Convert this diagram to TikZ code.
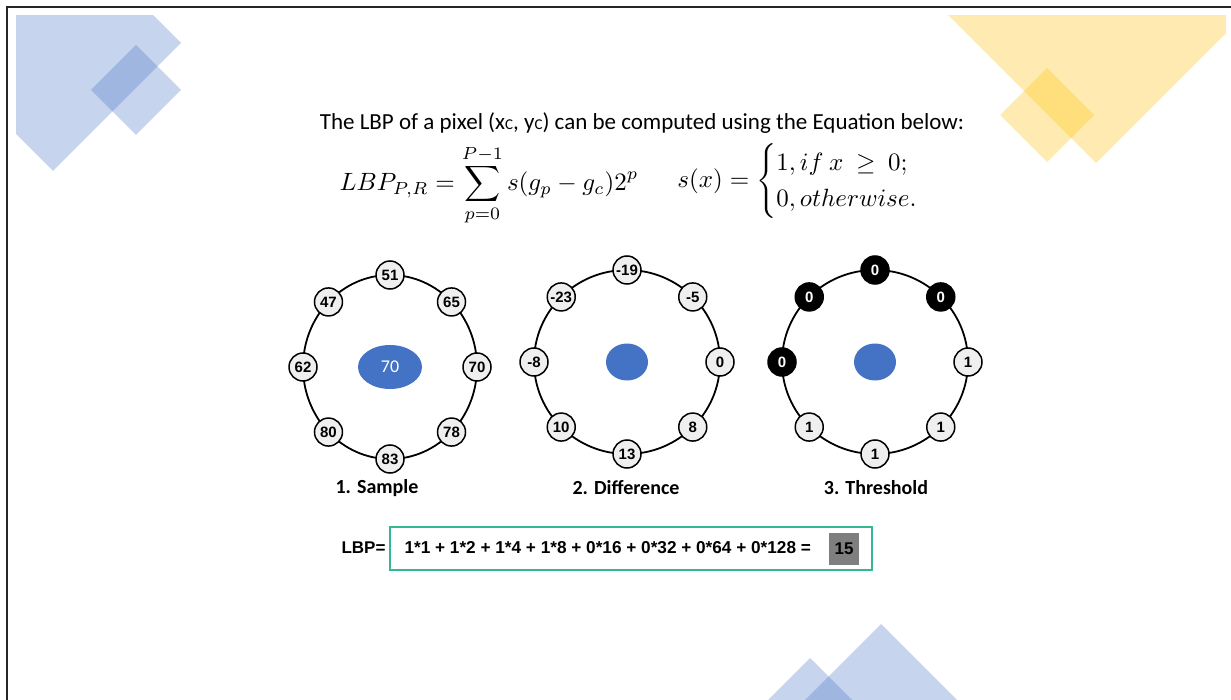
\documentclass[tikz,border=0pt]{standalone}
\usepackage{amsmath}
\usepackage{amssymb}
\usepackage[no-math]{fontspec}
\setmainfont{Carlito}
\newfontfamily\arialfont{Liberation Sans}
\usetikzlibrary{shapes.geometric, positioning}
\definecolor{decoblue}{HTML}{4472C4}
\definecolor{decoyellow}{HTML}{FFC000}
\definecolor{lbpgreen}{HTML}{33B893}
\definecolor{cellgray}{HTML}{EFEFEF}
\definecolor{resgray}{HTML}{7F7F7F}
\newcommand{\subc}{{\fontsize{15}{15}\selectfont C}}

\begin{document}
\begin{tikzpicture}[x=1pt, y=-1pt,
    pix/.style={circle, draw, line width=1.5pt, fill=cellgray, minimum size=28pt, inner sep=0pt,
      font=\arialfont\bfseries\fontsize{15}{15}\selectfont},
    pixoff/.style={pix, fill=black, text=white},
    ring/.style={line width=1.8pt},
    centre/.style={ellipse, fill=decoblue, inner sep=0pt},
    caption/.style={font=\bfseries\fontsize{20}{20}\selectfont},
    deco/.style={fill opacity=.3}]
  \useasboundingbox (0,0) rectangle (1231,700);
  \fill[white] (0,0) rectangle (1231,700);
  \draw[line width=1.5pt, black!85] (7,700) -- (7,7) -- (1231,7);

  % corner shapes
  \begin{scope}
    \clip (16,16) rectangle (1226,700);
    \fill[decoblue, deco] (181,43) -- (53,171) -- (-75,43) -- (53,-85) -- cycle;
    \fill[decoblue, deco] (181,90) -- (136,135) -- (91,90) -- (136,45) -- cycle;
    \fill[decoyellow, deco] (1259,0) -- (1096,163) -- (933,0) -- (1096,-163) -- cycle;
    \fill[decoyellow, deco] (1094,115) -- (1047,162) -- (1000,115) -- (1047,68) -- cycle;
    \fill[decoblue, deco] (961,704) -- (881,784) -- (801,704) -- (881,624) -- cycle;
    \fill[decoblue, deco] (852,700) -- (810,742) -- (768,700) -- (810,658) -- cycle;
  \end{scope}

  % title and equation
  \node[font=\fontsize{23}{26}\selectfont] (title) at (642,123)
    {The LBP of a pixel (x\subc, y\subc) can be computed using the Equation below:};
  \node[scale=2.5] (eqlbp) at (489,185)
    {$\displaystyle LBP_{P,R} = \sum_{p=0}^{P-1} s(g_p-g_c)2^p$};
  \node[scale=2.5] (eqs) at (811,181)
    {$s(x) = \begin{cases} 1, if\ x\ \ge\ 0;\\ 0, otherwise.\end{cases}$};

  % 1. sample
  \node[centre, minimum width=64pt, minimum height=44pt, text=white,
    font=\fontsize{18}{18}\selectfont] (smp) at (390,367) {70};
  \draw[ring] (smp.center) ellipse [x radius=87, y radius=92];
  \foreach \a/\v [count=\i] in {-90/51, -45/65, 0/70, 45/78, 90/83, 135/80, 180/62, 225/47}
    \node[pix] (smp-\i) at ([shift={(\a:87 and 92)}]smp.center) {\v};
  \node[caption] (smplab) at (377,488) {1. Sample};

  % 2. difference
  \node[centre, minimum width=42pt, minimum height=37pt] (dif) at (627,362) {};
  \draw[ring] (dif.center) ellipse [x radius=93, y radius=92];
  \foreach \a/\v [count=\i] in {-90/-19, -45/-5, 0/0, 45/8, 90/13, 135/10, 180/-8, 225/-23}
    \node[pix] (dif-\i) at ([shift={(\a:93 and 92)}]dif.center) {\v};
  \node[caption] (diflab) at (626,488) {2. Difference};

  % 3. threshold
  \node[centre, minimum width=42pt, minimum height=37pt] (thr) at (875,362) {};
  \draw[ring] (thr.center) ellipse [x radius=93, y radius=92];
  \foreach \a/\v/\s [count=\i] in {-90/0/pixoff, -45/0/pixoff, 0/1/pix, 45/1/pix, 90/1/pix,
      135/1/pix, 180/0/pixoff, 225/0/pixoff}
    \node[\s] (thr-\i) at ([shift={(\a:93 and 92)}]thr.center) {\v};
  \node[caption] (thrlab) at (876,488) {3. Threshold};

  % LBP sum
  \node[draw=lbpgreen, line width=2pt, minimum width=482pt, minimum height=43pt] (lbpbox) at (631,548) {};
  \node[font=\arialfont\bfseries\fontsize{17}{17}\selectfont, anchor=east] (lbplab)
    at (lbpbox.west) {LBP=};
  \node[font=\arialfont\bfseries\fontsize{17.2}{17}\selectfont, anchor=west] (lbpsum)
    at ([xshift=12pt]lbpbox.west) {1*1 + 1*2 + 1*4 + 1*8 + 0*16 + 0*32 + 0*64 + 0*128 =};
  \node[fill=resgray, minimum width=30pt, minimum height=32pt, inner sep=0pt,
    font=\arialfont\bfseries\fontsize{17}{17}\selectfont] (lbpres) at (844,549) {15};
\end{tikzpicture}
\end{document}
